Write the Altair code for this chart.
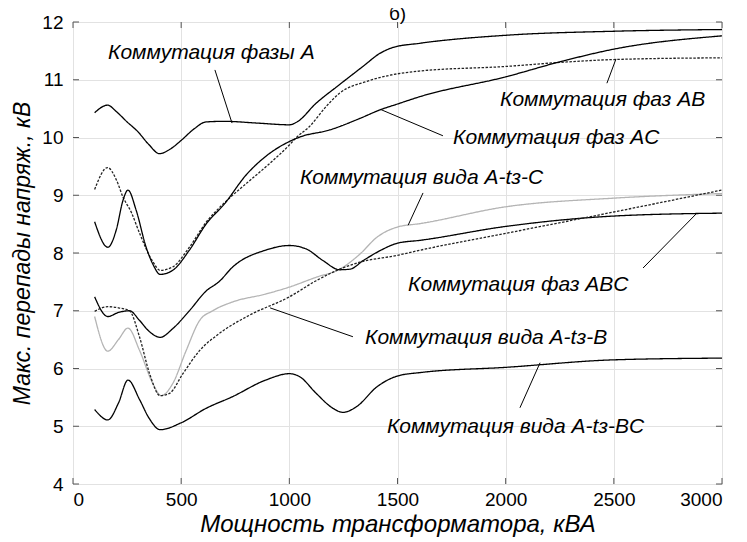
import altair as alt
import pandas as pd

# ---- data ----
x_a = [100, 160, 200, 250, 300, 350, 400, 450, 500, 560, 615, 700, 850, 1000, 1040, 1120, 1230, 1340, 1420, 1480, 1600, 2000, 2500, 3000]
y_a = [10.43, 10.56, 10.45, 10.27, 10.1, 9.88, 9.72, 9.8, 9.95, 10.15, 10.27, 10.28, 10.25, 10.22, 10.28, 10.58, 10.91, 11.23, 11.46, 11.56, 11.63, 11.77, 11.84, 11.87]

x_ab = [100, 160, 200, 231, 270, 308, 369, 403, 461, 538, 615, 700, 800, 900, 1000, 1030, 1093, 1171, 1233, 1357, 1481, 1600, 2000, 2250, 2500, 3000]
y_ab = [9.10, 9.48, 9.27, 8.97, 8.7, 8.34, 7.85, 7.70, 7.76, 8.10, 8.53, 8.87, 9.2, 9.52, 9.87, 9.99, 10.19, 10.54, 10.77, 10.97, 11.09, 11.15, 11.23, 11.30, 11.35, 11.38]

x_ac = [100, 161, 200, 231, 254, 292, 338, 370, 403, 461, 538, 615, 700, 800, 900, 1000, 1050, 1186, 1326, 1420, 1500, 1606, 2000, 2250, 2500, 3000]
y_ac = [8.54, 8.10, 8.4, 8.91, 9.09, 8.74, 8.10, 7.8, 7.63, 7.70, 8.05, 8.50, 8.85, 9.35, 9.70, 9.93, 10.01, 10.13, 10.33, 10.48, 10.58, 10.71, 11.05, 11.31, 11.53, 11.76]

x_tc = [100, 161, 210, 254, 308, 369, 408, 461, 523, 585, 646, 736, 891, 1000, 1124, 1233, 1326, 1404, 1500, 1606, 2000, 2500, 3000]
y_tc = [6.90, 6.30, 6.5, 6.70, 6.31, 5.74, 5.53, 5.74, 6.31, 6.83, 7.0, 7.15, 7.29, 7.41, 7.58, 7.72, 7.98, 8.27, 8.45, 8.51, 8.80, 8.95, 9.03]

x_abc = [100, 161, 210, 261, 308, 350, 403, 461, 538, 615, 677, 736, 891, 1000, 1078, 1155, 1233, 1280, 1342, 1419, 1500, 1606, 2000, 2500, 3000]
y_abc = [7.24, 6.90, 6.97, 7.0, 6.83, 6.65, 6.54, 6.69, 7.0, 7.34, 7.51, 7.75, 8.05, 8.13, 8.07, 7.87, 7.71, 7.72, 7.87, 8.04, 8.17, 8.22, 8.46, 8.64, 8.69]

x_tb = [100, 161, 210, 261, 308, 354, 403, 446, 508, 585, 674, 814, 1000, 1124, 1233, 1326, 1500, 1606, 2000, 2500, 3000]
y_tb = [6.99, 7.07, 7.05, 7.0, 6.54, 5.91, 5.53, 5.57, 5.91, 6.31, 6.60, 6.92, 7.24, 7.52, 7.72, 7.84, 7.96, 8.05, 8.34, 8.71, 9.09]

x_tbc = [100, 161, 210, 254, 308, 350, 403, 500, 615, 736, 891, 1000, 1047, 1124, 1202, 1248, 1311, 1404, 1500, 1606, 2000, 2500, 3000]
y_tbc = [5.29, 5.11, 5.4, 5.80, 5.46, 5.15, 4.94, 5.06, 5.31, 5.51, 5.80, 5.91, 5.86, 5.57, 5.31, 5.24, 5.34, 5.68, 5.87, 5.93, 6.02, 6.15, 6.18]

series_names = ["A", "AB", "AC", "tC", "ABC", "tB", "tBC"]
series_x = [x_a, x_ab, x_ac, x_tc, x_abc, x_tb, x_tbc]
series_y = [y_a, y_ab, y_ac, y_tc, y_abc, y_tb, y_tbc]
series_color = ["#000000", "#222222", "#000000", "#b4b4b4", "#000000", "#222222", "#000000"]
series_dash = ["solid", "dot", "solid", "solid", "solid", "dot", "solid"]

# annotation labels (text, anchor in data units) and leader lines
label_text = ["Коммутация фазы A", "Коммутация фаз AB", "Коммутация фаз AC",
              "Коммутация вида A-tз-C", "Коммутация фаз ABC",
              "Коммутация вида A-tз-B", "Коммутация вида A-tз-BC"]
label_x = [162, 1974, 1757, 1049, 1549, 1350, 1451]
label_y = [11.46, 10.65, 10.0, 9.30, 7.45, 6.53, 4.99]

lead_x1 = [656, 2468, 1419, 1618, 2635, 911, 2066]
lead_y1 = [11.17, 10.94, 10.49, 9.04, 7.74, 7.05, 5.32]
lead_x2 = [735, 2510, 1710, 1549, 2884, 1294, 2159]
lead_y2 = [10.25, 11.36, 10.03, 8.48, 8.69, 6.55, 6.10]

panel_title = ["б)"]

x_ticks = [0, 500, 1000, 1500, 2000, 2500, 3000]
y_ticks = [4, 5, 6, 7, 8, 9, 10, 11, 12]

# ---- build tables ----
rows = []
for n, xs, ys in zip(series_names, series_x, series_y):
    for xv, yv in zip(xs, ys):
        rows.append({"s": n, "x": xv, "y": yv})
df = pd.DataFrame(rows)
df_lab = pd.DataFrame({"t": label_text, "x": label_x, "y": label_y})
df_lead = pd.DataFrame({"x1": lead_x1, "y1": lead_y1, "x2": lead_x2, "y2": lead_y2})
df_xt = pd.DataFrame({"v": x_ticks})
df_yt = pd.DataFrame({"v": y_ticks})
df_title = pd.DataFrame({"t": panel_title})

W, H = 649, 462
FONT = "Liberation Sans"
xs_ = alt.Scale(domain=[0, 3000], nice=False, zero=False)
ys_ = alt.Scale(domain=[4, 12], nice=False, zero=False)

xax = alt.Axis(values=x_ticks, format="d", grid=True, gridColor="#e2e2e2", domain=False, ticks=False,
               labelFontSize=19, labelFont=FONT, labelColor="black", labelPadding=6,
               title="Мощность трансформатора, кВА", titleFont=FONT, titleFontSize=24,
               titleFontStyle="italic", titleFontWeight="normal", titleColor="black", titlePadding=3)
yax = alt.Axis(values=y_ticks, format="d", grid=True, gridColor="#e2e2e2", domain=False, ticks=False,
               labelFontSize=19, labelFont=FONT, labelColor="black", labelPadding=10,
               title="Макс. перепады напряж., кВ", titleFont=FONT, titleFontSize=23,
               titleFontStyle="italic", titleFontWeight="normal", titleColor="black", titlePadding=7)

lines = alt.Chart(df).mark_line(interpolate="monotone", strokeWidth=1.3).encode(
    x=alt.X("x:Q", scale=xs_, axis=xax),
    y=alt.Y("y:Q", scale=ys_, axis=yax),
    color=alt.Color("s:N", scale=alt.Scale(domain=series_names, range=series_color), legend=None),
    strokeDash=alt.StrokeDash("s:N", scale=alt.Scale(domain=series_names,
                              range=[[1, 0] if d == "solid" else [2.5, 1.5] for d in series_dash]),
                              legend=None),
    detail="s:N",
)

leads = alt.Chart(df_lead).mark_rule(color="black", strokeWidth=1).encode(
    x=alt.X("x1:Q", scale=xs_), y=alt.Y("y1:Q", scale=ys_), x2="x2:Q", y2="y2:Q")

labels = alt.Chart(df_lab).mark_text(align="left", baseline="middle", font=FONT, fontSize=21,
                                     fontStyle="italic", color="black").encode(
    x=alt.X("x:Q", scale=xs_), y=alt.Y("y:Q", scale=ys_), text="t:N")

title_mark = alt.Chart(df_title).mark_text(align="center", baseline="alphabetic", font=FONT,
                                           fontSize=19, color="black").encode(
    x=alt.value(W / 2), y=alt.value(-2), text="t:N")

tk = dict(color="#555555", strokeWidth=1)
xt_b = alt.Chart(df_xt).mark_rule(**tk).encode(x=alt.X("v:Q", scale=xs_), y=alt.value(H - 6), y2=alt.value(H))
xt_t = alt.Chart(df_xt).mark_rule(**tk).encode(x=alt.X("v:Q", scale=xs_), y=alt.value(0), y2=alt.value(6))
yt_l = alt.Chart(df_yt).mark_rule(**tk).encode(y=alt.Y("v:Q", scale=ys_), x=alt.value(0), x2=alt.value(6))
yt_r = alt.Chart(df_yt).mark_rule(**tk).encode(y=alt.Y("v:Q", scale=ys_), x=alt.value(W - 6), x2=alt.value(W))

chart = alt.layer(lines, leads, labels, title_mark, xt_b, xt_t, yt_l, yt_r).properties(
    width=W, height=H,
    autosize=alt.AutoSizeParams(type="none"),
    padding={"left": 65, "top": 14, "right": 10, "bottom": 56},
).configure_view(stroke="#6a6a6a", strokeWidth=1.5).configure(background="white")

chart.save("out.html", embed_options={"renderer": "svg", "actions": False})
